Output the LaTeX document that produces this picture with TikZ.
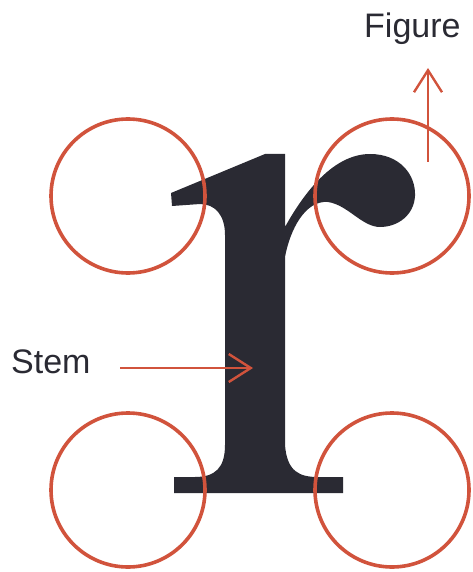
\documentclass[tikz,border=0pt]{standalone}
\usepackage{fontspec}
\setmainfont{Liberation Sans}
\usetikzlibrary{arrows.meta}
\definecolor{ink}{HTML}{2A2A33}
\definecolor{accent}{HTML}{D1533C}
\tikzset{
  ring/.style={draw=accent, line width=3.6pt},
  pointer/.style={draw=accent, line width=2.8pt, -{Straight Barb[length=22pt,width=28pt,line width=2.4pt]}},
  lbl/.style={text=ink, inner sep=0pt, font=\fontsize{34}{40}\selectfont}
}
\begin{document}
\begin{tikzpicture}[x=1pt,y=-1pt]
\useasboundingbox (0,0) rectangle (473,572);
% letter r
\fill[ink] (171,193) -- (265,154) -- (285,154) -- (285,227)
  .. controls (300,200) and (330,154) .. (370,154)
  .. controls (400,154) and (416,175) .. (415,196)
  .. controls (414,215) and (398,227) .. (380,227)
  .. controls (362,227) and (348,205) .. (328,202)
  .. controls (305,200) and (290,230) .. (285,257)
  -- (285,445)
  .. controls (287,472) and (300,477) .. (318,477)
  -- (343,477) -- (343,493) -- (174,493) -- (174,477) -- (195,477)
  .. controls (215,477) and (225,468) .. (225,445)
  -- (225,235)
  .. controls (225,215) and (215,204) .. (200,204)
  -- (172,206) -- cycle;
% circles
\node[ring, circle, minimum size=154pt, inner sep=0pt] (tl) at (128,196) {};
\node[ring, circle, minimum size=154pt, inner sep=0pt] (tr) at (392,196) {};
\node[ring, circle, minimum size=154pt, inner sep=0pt] (bl) at (128,490) {};
\node[ring, circle, minimum size=154pt, inner sep=0pt] (br) at (392,490) {};
% labels
\node[lbl, anchor=base west] (stem) at (11,373) {Stem};
\node[lbl, anchor=base west] (figure) at (364,38) {Figure};
% arrows
\coordinate (stemfrom) at (120,368);
\coordinate (stemto) at (253,368);
\coordinate (figfrom) at (428,162);
\coordinate (figto) at (428,68);
\draw[pointer] (stemfrom) -- (stemto);
\draw[pointer] (figfrom) -- (figto);
\end{tikzpicture}
\end{document}
